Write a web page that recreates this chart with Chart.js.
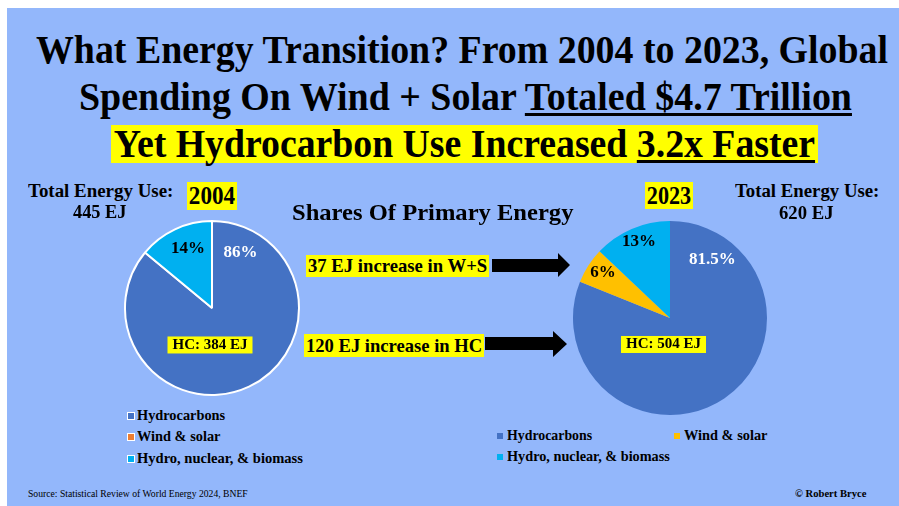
<!DOCTYPE html>
<html><head><meta charset="utf-8">
<script src="https://cdn.jsdelivr.net/npm/chart.js@4.4.1/dist/chart.umd.min.js"></script>
<style>
html,body{margin:0;padding:0;background:#fff;}
#root{position:relative;width:899px;height:506px;overflow:hidden;background:#fff;font-family:"Liberation Serif","Times New Roman",serif;font-weight:bold;color:#000;}
#bg{position:absolute;left:7px;top:8px;right:0;bottom:0;background:#93B7FB;}
.t{position:absolute;white-space:nowrap;transform-origin:0 0;line-height:1;}
.y{background:#FFFF00;}
.u{text-decoration:underline;text-decoration-thickness:3px;text-underline-offset:3px;}
canvas{position:absolute;}
svg{position:absolute;left:0;top:0;}
.mk{position:absolute;width:6px;height:6px;}
</style></head>
<body><div id="root"><div id="bg"></div>
<svg width="899" height="506">
  <polygon points="492,259 558,259 558,253 570,265 558,277 558,272 492,272" fill="#000"/>
  <polygon points="485,337 553,337 553,331 567,344 553,357 553,350 485,350" fill="#000"/>
</svg>
<canvas id="c1" width="180" height="180" style="left:122px;top:218px"></canvas>
<canvas id="c2" width="200" height="200" style="left:570px;top:218px"></canvas>
</div>
<script>
// ---- data ----
const years = ['2004', '2023'];
const categories = ['Hydrocarbons', 'Wind & solar', 'Hydro, nuclear, & biomass'];
const shares2004 = [86, 0, 14];
const shares2023 = [81.5, 6, 13];
const totalEJ = [445, 620];
const hcEJ = [384, 504];
const increaseWS = 37;
const increaseHC = 120;
const spendingTrillion = 4.7;
const fasterRatio = 3.2;

const colors2004 = ['#4472C4', '#ED7D31', '#00B0F0'];
const colors2023 = ['#4472C4', '#FFC000', '#00B0F0'];

const root = document.getElementById('root');

function place(html, cx, cy, size, w, opts = {}) {
  const el = document.createElement('div');
  el.className = 't' + (opts.cls ? ' ' + opts.cls : '');
  el.innerHTML = html;
  el.style.fontSize = size + 'px';
  if (opts.lh) el.style.lineHeight = opts.lh + 'px';
  if (opts.pad) el.style.padding = opts.pad;
  if (opts.weight) el.style.fontWeight = opts.weight;
  root.appendChild(el);
  const W = el.offsetWidth, H = el.offsetHeight;
  const s = w ? w / W : 1;
  el.style.transform = `scaleX(${s})`;
  el.style.left = (opts.left ? cx : cx - W * s / 2) + 'px';
  el.style.top = (cy - H / 2) + 'px';
  return el;
}

// titles
place(`What Energy Transition? From ${years[0]} to ${years[1]}, Global`, 462, 50, 40, 852);
place(`Spending On Wind + Solar <span class="u">Totaled $${spendingTrillion} Trillion</span>`, 465, 97, 40, 773);
place(`Yet Hydrocarbon Use Increased <span class="u">${fasterRatio}x Faster</span>`, 464.5, 144, 40, 707, {cls: 'y', lh: 38, pad: '0 3px'});

place('Total Energy Use:', 100.5, 190.5, 18, 145);
place(`${totalEJ[0]} EJ`, 100, 211.5, 18, 54);
place(years[0], 212, 196, 25, 50, {cls: 'y', lh: 28, pad: '0 2px'});
place('Shares Of Primary Energy', 432.5, 212, 23, 281);
place(years[1], 669, 195.5, 25, 48, {cls: 'y', lh: 27, pad: '0 2px'});
place('Total Energy Use:', 807, 190.5, 18, 144);
place(`${totalEJ[1]} EJ`, 806.5, 212.5, 18, 55);

place(`${increaseWS} EJ increase in W+S`, 397.5, 266, 19, 183, {cls: 'y', lh: 22, pad: '0 2px'});
place(`${increaseHC} EJ increase in HC`, 394, 345.5, 19, 180, {cls: 'y', lh: 23, pad: '0 2px'});

// legends
function legendItem(label, color, mx, tx, y, textW, outlined) {
  const m = document.createElement('div');
  m.className = 'mk';
  m.style.background = color;
  m.style.left = mx + 'px';
  m.style.top = (y - 3) + 'px';
  if (outlined) m.style.boxShadow = '0 0 0 1px #fff';
  root.appendChild(m);
  place(label, tx, y, 14, textW, {left: true});
}
legendItem(categories[0], colors2004[0], 128, 137, 416, 88, true);
legendItem(categories[1], colors2004[1], 128, 137, 437, 83, true);
legendItem(categories[2], colors2004[2], 128, 137, 458.5, 166, true);
legendItem(categories[0], colors2023[0], 497, 507, 436, 85, false);
legendItem(categories[1], colors2023[1], 674, 684, 436, 83, false);
legendItem(categories[2], colors2023[2], 497, 507, 457, 163, false);

// footer
place('Source: Statistical Review of World Energy 2024, BNEF', 28, 494, 10, 220, {left: true, weight: 'normal'});
place('© Robert Bryce', 795, 494, 10, 71, {left: true});

// slice label plugin
const sliceLabels = {
  id: 'sliceLabels',
  afterDatasetsDraw(chart, args, opts) {
    const meta = chart.getDatasetMeta(0);
    const ctx = chart.ctx;
    (opts.items || []).forEach(it => {
      const arc = meta.data[it.index];
      const r = arc.outerRadius;
      const x = arc.x + it.dx * r, y = arc.y + it.dy * r;
      const text = it.text(chart.data.datasets[0].data[it.index]);
      ctx.save();
      ctx.font = `bold ${it.size}px "Liberation Serif", "Times New Roman", serif`;
      ctx.textAlign = 'center';
      ctx.textBaseline = 'middle';
      if (it.bg) {
        const w = ctx.measureText(text).width + 2 * it.padX;
        const h = it.h;
        ctx.fillStyle = it.bg;
        ctx.fillRect(x - w / 2, y - h / 2, w, h);
      }
      ctx.fillStyle = it.color;
      ctx.fillText(text, x, y);
      ctx.restore();
    });
  }
};

function makePie(id, data, colors, border, radius, items) {
  return new Chart(document.getElementById(id), {
    type: 'pie',
    data: {
      labels: categories,
      datasets: [{
        data: data,
        backgroundColor: colors,
        borderColor: '#FFFFFF',
        borderWidth: border,
        radius: radius
      }]
    },
    options: {
      responsive: false,
      animation: false,
      layout: {padding: 0},
      plugins: {
        legend: {display: false},
        tooltip: {enabled: false},
        sliceLabels: {items: items}
      }
    },
    plugins: [sliceLabels]
  });
}

makePie('c1', shares2004, colors2004, 2, 87, [
  {index: 2, dx: -0.276, dy: -0.684, size: 17, color: '#000', text: v => v + '%'},
  {index: 0, dx: 0.328, dy: -0.638, size: 17, color: '#fff', text: v => v + '%'},
  {index: 0, dx: -0.023, dy: 0.425, size: 15, color: '#000', bg: '#FFFF00', padX: 5, h: 17, text: () => `HC: ${hcEJ[0]} EJ`}
]);
makePie('c2', shares2023, colors2023, 0, 97, [
  {index: 2, dx: -0.32, dy: -0.789, size: 17, color: '#000', text: v => v + '%'},
  {index: 1, dx: -0.691, dy: -0.469, size: 17, color: '#000', text: v => v + '%'},
  {index: 0, dx: 0.438, dy: -0.598, size: 17, color: '#fff', text: v => v + '%'},
  {index: 0, dx: -0.067, dy: 0.273, size: 15, color: '#000', bg: '#FFFF00', padX: 5, h: 17, text: () => `HC: ${hcEJ[1]} EJ`}
]);
</script>
</body></html>
